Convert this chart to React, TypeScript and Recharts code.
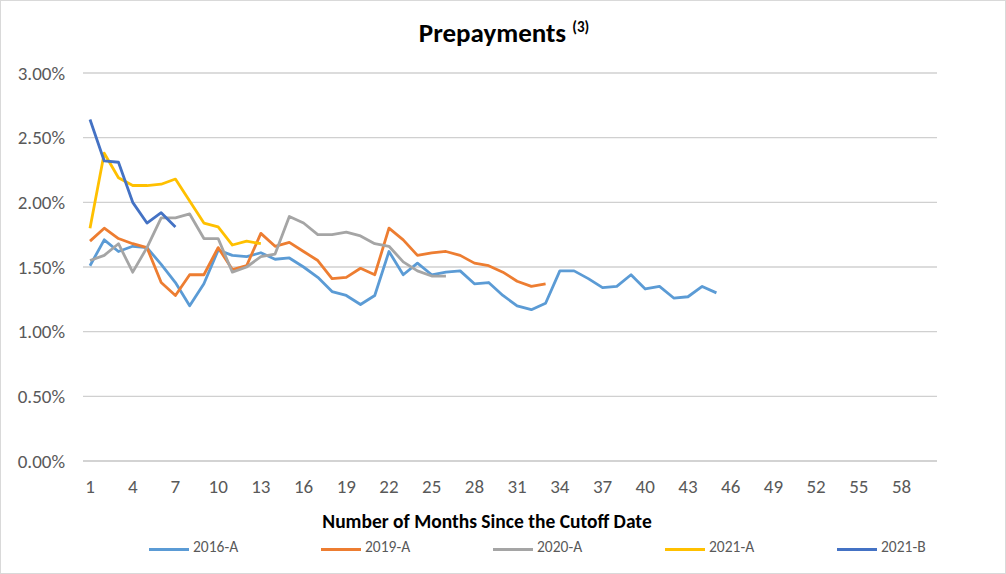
import React from 'react';
import { LineChart, Line, XAxis, YAxis, CartesianGrid } from 'recharts';

const months = [
  1, 2, 3, 4, 5, 6, 7, 8, 9, 10, 11, 12, 13, 14, 15, 16, 17, 18, 19, 20,
  21, 22, 23, 24, 25, 26, 27, 28, 29, 30, 31, 32, 33, 34, 35, 36, 37, 38, 39, 40,
  41, 42, 43, 44, 45, 46, 47, 48, 49, 50, 51, 52, 53, 54, 55, 56, 57, 58, 59, 60,
];

const s2016A = [
  1.51, 1.71, 1.62, 1.66, 1.65, 1.52, 1.38, 1.2, 1.37, 1.63,
  1.59, 1.58, 1.61, 1.56, 1.57, 1.5, 1.42, 1.31, 1.28, 1.21,
  1.28, 1.62, 1.44, 1.53, 1.44, 1.46, 1.47, 1.37, 1.38, 1.28,
  1.2, 1.17, 1.22, 1.47, 1.47, 1.41, 1.34, 1.35, 1.44, 1.33,
  1.35, 1.26, 1.27, 1.35, 1.3,
];
const s2019A = [
  1.7, 1.8, 1.72, 1.68, 1.65, 1.38, 1.28, 1.44, 1.44, 1.65,
  1.48, 1.51, 1.76, 1.66, 1.69, 1.62, 1.55, 1.41, 1.42, 1.49,
  1.44, 1.8, 1.71, 1.59, 1.61, 1.62, 1.59, 1.53, 1.51, 1.46,
  1.39, 1.35, 1.37,
];
const s2020A = [
  1.55, 1.59, 1.68, 1.46, 1.65, 1.88, 1.88, 1.91, 1.72, 1.72,
  1.46, 1.5, 1.58, 1.6, 1.89, 1.84, 1.75, 1.75, 1.77, 1.74,
  1.68, 1.66, 1.54, 1.47, 1.43, 1.43,
];
const s2021A = [1.8, 2.38, 2.19, 2.13, 2.13, 2.14, 2.18, 2.01, 1.84, 1.81, 1.67, 1.7, 1.68];
const s2021B = [2.64, 2.32, 2.31, 2.0, 1.84, 1.92, 1.81];

const yTicks = [0, 0.5, 1, 1.5, 2, 2.5, 3];

const series = [
  { name: '2016-A', values: s2016A, color: '#5B9BD5' },
  { name: '2019-A', values: s2019A, color: '#ED7D31' },
  { name: '2020-A', values: s2020A, color: '#A5A5A5' },
  { name: '2021-A', values: s2021A, color: '#FFC000' },
  { name: '2021-B', values: s2021B, color: '#4472C4' },
];

const data = months.map((m, i) => {
  const row: Record<string, number> = { month: m };
  series.forEach((s) => {
    if (i < s.values.length) row[s.name] = s.values[i];
  });
  return row;
});

const FONT = "Carlito, Lato, 'Noto Sans', sans-serif";
const TEXT = '#595959';

export default function App() {
  return (
    <div
      style={{
        position: 'absolute',
        left: 0,
        top: 0,
        width: 1006,
        height: 574,
        boxSizing: 'border-box',
        border: '1px solid #d9d9d9',
        background: '#fff',
        fontFamily: FONT,
      }}
    >
      <div
        style={{
          position: 'absolute',
          left: 0,
          width: 1006,
          top: 15,
          textAlign: 'center',
          fontSize: 27,
          lineHeight: 'normal',
          fontWeight: 700,
          color: '#000',
        }}
      >
        Prepayments <sup style={{ fontSize: 15, verticalAlign: 10 }}>(3)</sup>
      </div>

      <LineChart
        width={1006}
        height={574}
        data={data}
        margin={{ top: 72, right: 70, bottom: 84, left: 0 }}
        style={{ position: 'absolute', left: 0, top: 0 }}
      >
        <CartesianGrid vertical={false} stroke="#d0d0d0" strokeWidth={1.4} />
        <XAxis
          dataKey="month"
          interval={2}
          padding={{ left: 7, right: 7 }}
          height={30}
          axisLine={{ stroke: '#d0d0d0', strokeWidth: 1.4 }}
          tickLine={false}
          tickSize={0}
          tickMargin={19}
          tick={{ fill: TEXT, fontSize: 19, fontFamily: FONT }}
        />
        <YAxis
          width={82}
          domain={[0, 3]}
          ticks={yTicks}
          axisLine={false}
          tickLine={false}
          tickSize={0}
          tickMargin={18}
          tickFormatter={(v: number) => `${v.toFixed(2)}%`}
          tick={{ fill: TEXT, fontSize: 19, fontFamily: FONT }}
        />
        {series.map((s) => (
          <Line
            key={s.name}
            type="linear"
            dataKey={s.name}
            stroke={s.color}
            strokeWidth={2.8}
            dot={false}
            activeDot={false}
            strokeLinejoin="round"
            isAnimationActive={false}
          />
        ))}
      </LineChart>

      <div
        style={{
          position: 'absolute',
          left: 0,
          width: 972,
          top: 508,
          textAlign: 'center',
          fontSize: 19.5,
          lineHeight: 'normal',
          fontWeight: 700,
          color: '#000',
        }}
      >
        Number of Months Since the Cutoff Date
      </div>

      {series.map((s, i) => (
        <React.Fragment key={s.name}>
          <div
            style={{
              position: 'absolute',
              left: 148 + i * 172,
              top: 547,
              width: 40,
              height: 3,
              background: s.color,
            }}
          />
          <div
            style={{
              position: 'absolute',
              left: 192 + i * 172,
              top: 536,
              fontSize: 15.5,
              lineHeight: 'normal',
              color: TEXT,
            }}
          >
            {s.name}
          </div>
        </React.Fragment>
      ))}
    </div>
  );
}
